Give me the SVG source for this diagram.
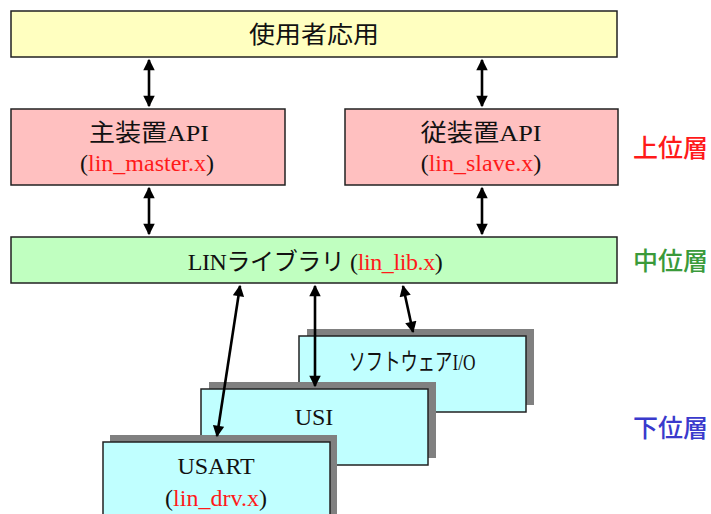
<svg xmlns="http://www.w3.org/2000/svg" width="711" height="514" viewBox="0 0 711 514">
<style>
.box{stroke:#222;stroke-width:1.5}
.t{font-family:"Liberation Serif","Noto Sans CJK JP",serif;font-size:24px;fill:#111;text-anchor:middle}
.r{fill:#ff1a1a}
.shadow{fill:#808080}
.cyan{fill:#c0ffff}
.lay{font-family:"Noto Sans CJK JP","Noto Sans",sans-serif;font-size:25px;font-weight:500;text-anchor:start}
.c{stroke:#000;stroke-width:2.6;fill:none;marker-start:url(#ah);marker-end:url(#ah)}
</style>
<defs>
<marker id="ah" viewBox="0 0 10 10" refX="9" refY="5" markerWidth="5" markerHeight="4.4" orient="auto-start-reverse" markerUnits="strokeWidth">
<path d="M0,0 L10,5 L0,10 z" fill="#000"/>
</marker>
</defs>
<rect width="711" height="514" fill="#fff"/>
<g id="app">
<rect class="box" x="11" y="11" width="606" height="46" fill="#ffffc0"/>
<text class="t" x="314" y="43" font-size="25" textLength="130" lengthAdjust="spacingAndGlyphs">使用者応用</text>
</g>
<g id="master">
<rect class="box" x="11" y="109" width="274" height="76" fill="#ffc0c0"/>
<text class="t" x="149" y="141" textLength="120" lengthAdjust="spacingAndGlyphs">主装置API</text>
<text class="t" x="147" y="171" font-size="25">(<tspan class="r">lin_master.x</tspan>)</text>
</g>
<g id="slave">
<rect class="box" x="345" y="109" width="273" height="76" fill="#ffc0c0"/>
<text class="t" x="481" y="141" textLength="121" lengthAdjust="spacingAndGlyphs">従装置API</text>
<text class="t" x="481" y="171" font-size="25">(<tspan class="r">lin_slave.x</tspan>)</text>
</g>
<g id="lib">
<rect class="box" x="11" y="237" width="606" height="46" fill="#c0ffc0"/>
<text class="t" x="315" y="270" font-size="22" letter-spacing="-0.4">LINライブラリ (<tspan class="r">lin_lib.x</tspan>)</text>
</g>
<g id="softio">
<rect class="shadow" x="307" y="329" width="227" height="76"/>
<rect class="box cyan" x="299" y="336" width="227" height="76"/>
<text class="t" x="412" y="370" textLength="127" lengthAdjust="spacingAndGlyphs">ソフトウェアI/O</text>
</g>
<g id="usi">
<rect class="shadow" x="209" y="382" width="227" height="76"/>
<rect class="box cyan" x="201" y="389" width="227" height="76"/>
<text class="t" x="314" y="425" font-size="25">USI</text>
</g>
<g id="usart">
<rect class="shadow" x="110" y="435" width="227" height="90"/>
<rect class="box cyan" x="103" y="442" width="227" height="90"/>
<text class="t" x="216" y="474" font-size="25">USART</text>
<text class="t" x="216" y="506" font-size="25">(<tspan class="r">lin_drv.x</tspan>)</text>
</g>
<g id="layers">
<text class="lay" x="633" y="157" fill="#ff1a1a">上位層</text>
<text class="lay" x="633" y="270" fill="#3a9a3a">中位層</text>
<text class="lay" x="633" y="437" fill="#3a3acc">下位層</text>
</g>
<g id="connectors">
<line class="c" x1="149" y1="60" x2="149" y2="106"/>
<line class="c" x1="482" y1="60" x2="482" y2="106"/>
<line class="c" x1="149" y1="188" x2="149" y2="234"/>
<line class="c" x1="482" y1="188" x2="482" y2="234"/>
<line class="c" x1="240" y1="286" x2="217" y2="436"/>
<line class="c" x1="315" y1="286" x2="315" y2="386"/>
<line class="c" x1="403" y1="286" x2="413" y2="332"/>
</g>
</svg>
